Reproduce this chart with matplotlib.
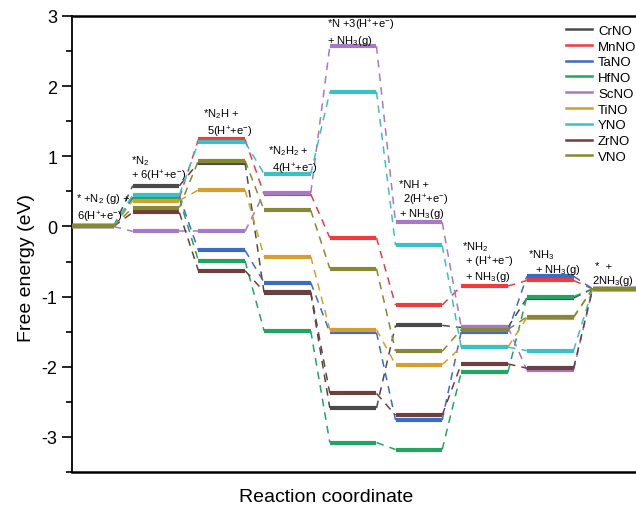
import matplotlib
matplotlib.use("Agg")
import matplotlib.pyplot as plt
from matplotlib.ticker import MultipleLocator
from matplotlib.lines import Line2D

plt.rcParams["font.family"] = ["Liberation Sans", "DejaVu Sans"]
plt.rcParams["mathtext.fontset"] = "custom"
plt.rcParams["mathtext.rm"] = "Liberation Sans"
plt.rcParams["mathtext.it"] = "Liberation Sans:italic"
plt.rcParams["axes.unicode_minus"] = False

# Free energy (eV) of each intermediate, per catalyst
catalysts = ["CrNO", "MnNO", "TaNO", "HfNO", "ScNO", "TiNO", "YNO", "ZrNO", "VNO"]
cr_no = [0, 0.58, 0.91, -0.95, -2.59, -1.41, -1.44, -1.02, -0.89]
mn_no = [0, 0.41, 1.24, 0.46, -0.16, -1.12, -0.85, -0.77, -0.89]
ta_no = [0, 0.43, -0.34, -0.80, -1.51, -2.76, -1.50, -0.71, -0.89]
hf_no = [0, 0.40, -0.49, -1.49, -3.08, -3.18, -2.08, -1.00, -0.89]
sc_no = [0, -0.07, -0.07, 0.48, 2.57, 0.06, -1.43, -2.05, -0.89]
ti_no = [0, 0.37, 0.52, -0.43, -1.47, -1.97, -1.72, -1.30, -0.89]
y_no = [0, 0.45, 1.20, 0.75, 1.92, -0.27, -1.72, -1.77, -0.89]
zr_no = [0, 0.20, -0.63, -0.93, -2.38, -2.69, -1.96, -2.02, -0.89]
v_no = [0, 0.27, 0.94, 0.23, -0.60, -1.78, -1.47, -1.29, -0.89]
energies = [cr_no, mn_no, ta_no, hf_no, sc_no, ti_no, y_no, zr_no, v_no]

colors = ["#4a4a4a", "#f03b3e", "#3c6bc4", "#22a463", "#a678c6",
          "#d3a02c", "#38c2c4", "#6d3f40", "#858934"]

# intermediate labels: (x, y, text)
step_labels = [
    (0.14, 0.40, "* +N$_2$ (g) +"),
    (0.15, 0.14, "6(H$^{+}$+e$^{-}$)"),
    (0.97, 0.94, "*N$_2$"),
    (0.97, 0.73, "+ 6(H$^{+}$+e$^{-}$)"),
    (2.07, 1.61, "*N$_2$H +"),
    (2.13, 1.36, "5(H$^{+}$+e$^{-}$)"),
    (3.06, 1.09, "*N$_2$H$_2$ +"),
    (3.12, 0.83, "4(H$^{+}$+e$^{-}$)"),
    (3.96, 2.88, "*N +3(H$^{+}$+e$^{-}$)"),
    (3.96, 2.66, "+ NH$_3$(g)"),
    (5.05, 0.60, "*NH +"),
    (5.11, 0.39, "2(H$^{+}$+e$^{-}$)"),
    (5.05, 0.19, "+ NH$_3$(g)"),
    (6.01, -0.28, "*NH$_2$"),
    (6.06, -0.50, "+ (H$^{+}$+e$^{-}$)"),
    (6.06, -0.71, "+ NH$_3$(g)"),
    (7.02, -0.40, "*NH$_3$"),
    (7.12, -0.61, "+ NH$_3$(g)"),
    (8.03, -0.56, "*  +"),
    (7.99, -0.77, "2NH$_3$(g)"),
]

level_width = 0.71

fig = plt.figure(figsize=(6.36, 5.10), dpi=100)
ax = fig.add_axes([72 / 636, 37 / 510, 564 / 636, 456 / 510])

for vals, col in zip(energies, colors):
    for i, e in enumerate(vals):
        ax.plot([i, i + level_width], [e, e], color=col, lw=3.0,
                solid_capstyle="butt", zorder=3)
        if i + 1 < len(vals):
            ax.plot([i + level_width, i + 1], [e, vals[i + 1]], color=col,
                    lw=1.1, ls=(0, (5, 4)), zorder=2)

for x, y, txt in step_labels:
    ax.text(x, y, txt, fontsize=8, ha="left", va="center", zorder=5)

ax.set_xlim(0.076, 8.66)
ax.set_ylim(-3.5, 3.0)
ax.yaxis.set_major_locator(MultipleLocator(1))
ax.yaxis.set_minor_locator(MultipleLocator(0.5))
ax.set_xticks([])
ax.tick_params(axis="y", which="major", length=7, width=1.2, labelsize=13, direction="out")
ax.tick_params(axis="y", which="minor", length=4, width=1.2, direction="out")
ax.spines["right"].set_visible(False)
ax.spines["left"].set_linewidth(1.3)
ax.spines["top"].set_linewidth(1.8)
ax.spines["bottom"].set_linewidth(1.8)

ax.set_ylabel("Free energy (eV)", fontsize=14)
ax.yaxis.set_label_coords(-0.066, 0.45)
ax.set_xlabel("Reaction coordinate", fontsize=14)
ax.xaxis.set_label_coords(0.45, -0.035)

handles = [Line2D([], [], color=c, lw=1.8) for c in colors]
ax.legend(handles, catalysts, loc="upper right", bbox_to_anchor=(1.01, 0.993),
          frameon=False, fontsize=9.5, handlelength=2.0, labelspacing=0.27,
          handletextpad=0.45, borderaxespad=0.0)

fig.savefig("out.png", dpi=100)
plt.close(fig)
